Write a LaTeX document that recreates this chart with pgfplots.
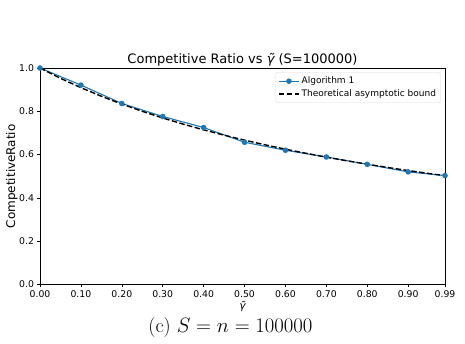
\documentclass[border=0pt]{standalone}
\usepackage[no-math]{fontspec}
\setmainfont{DejaVu Sans}
\newfontfamily\lmr{Latin Modern Roman}
\usepackage{pgfplots}
\pgfplotsset{compat=1.18}
\definecolor{mplblue}{HTML}{1F77B4}
\newcommand{\gt}{{\itshape γ̃}}
\begin{document}
\begin{tikzpicture}
\path[use as bounding box] (-40pt,-59.5pt) rectangle (425pt,284.5pt);
\begin{axis}[
  scale only axis, width=405pt, height=216.5pt,
  xmin=0, xmax=0.99, ymin=0, ymax=1,
  xtick={0,0.1,0.2,0.3,0.4,0.5,0.6,0.7,0.8,0.9,0.99},
  ytick={0,0.2,0.4,0.6,0.8,1.0},
  xticklabel style={/pgf/number format/.cd, fixed, fixed zerofill, precision=2},
  yticklabel style={/pgf/number format/.cd, fixed, fixed zerofill, precision=1},
  /pgf/number format/assume math mode=true,
  ticklabel style={font=\fontsize{9.3}{11}\selectfont},
  tick align=outside, major tick length=2.5pt,
  tick style={black, line width=0.6pt},
  xtick pos=bottom, ytick pos=left,
  axis line style={black, line width=0.8pt},
  title={Competitive Ratio vs \gt{} (S=100000)},
  title style={font=\fontsize{13}{15}\selectfont, at={(axis description cs:0.5,1)}, anchor=base, yshift=-1.5pt},
  xlabel={\gt},
  xlabel style={font=\fontsize{10.5}{12}\selectfont, at={(axis description cs:0.5,0)}, anchor=base, yshift=-25.5pt},
  ylabel={CompetitiveRatio},
  every axis y label/.style={at={(axis description cs:-0.0699,0.5)}, rotate=90, anchor=center, font=\fontsize{12}{14}\selectfont},
  legend cell align=left,
  legend style={at={(0.9894,0.980)}, anchor=north east, draw=black!15, rounded corners=2pt,
    font=\fontsize{9}{11}\selectfont, row sep=0.5pt, inner xsep=2.5pt, inner ysep=2.5pt},
  legend image code/.code={\draw[mark repeat=2,mark phase=2,#1] plot coordinates {(0pt,0pt)(10pt,0pt)(20pt,0pt)};},
]
\addplot[color=mplblue, line width=1.1pt, mark=*, mark size=2.2pt, mark options={fill=mplblue, draw=mplblue}]
coordinates {(0,1.0) (0.1,0.921) (0.2,0.836) (0.3,0.776) (0.4,0.725) (0.5,0.657) (0.6,0.620) (0.7,0.589) (0.8,0.555) (0.9,0.520) (0.99,0.503)};
\addlegendentry{Algorithm 1}
\addplot[color=black, line width=1.4pt, dash pattern=on 5.5pt off 2.4pt]
coordinates {(0,1.0000) (0.05,0.9524) (0.1,0.9091) (0.15,0.8696) (0.2,0.8333) (0.25,0.8000) (0.3,0.7692) (0.35,0.7407) (0.4,0.7143) (0.45,0.6897) (0.5,0.6667) (0.55,0.6452) (0.6,0.6250) (0.65,0.6061) (0.7,0.5882) (0.75,0.5714) (0.8,0.5556) (0.85,0.5405) (0.9,0.5263) (0.95,0.5128) (0.99,0.5025)};
\addlegendentry{Theoretical asymptotic bound}
\end{axis}
\node[anchor=base, font=\fontsize{20}{24}\selectfont\lmr] at (190.5pt,-48.5pt) {(c) $S = n = 100000$};
\end{tikzpicture}
\end{document}
